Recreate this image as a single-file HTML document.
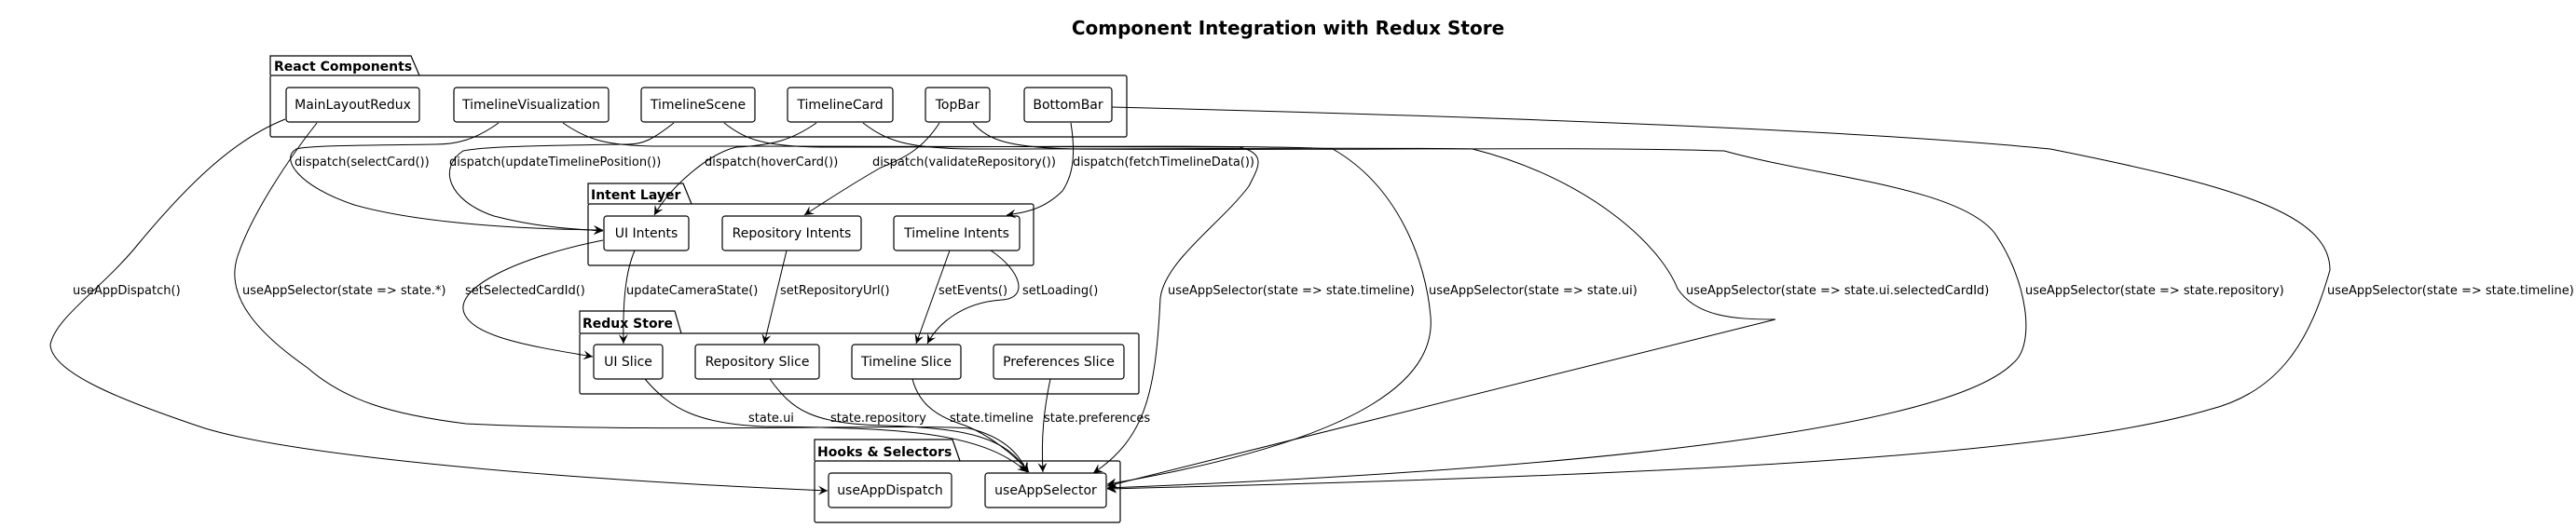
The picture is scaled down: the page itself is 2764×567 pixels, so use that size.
<!DOCTYPE html>
<html><head><meta charset="utf-8"><style>
html,body{margin:0;padding:0;background:#fff;}
svg{display:block;}
text{font-family:"DejaVu Sans","Liberation Sans",sans-serif;fill:#000;}
.n{font-size:14px;}
.l{font-size:13px;}
.p{font-size:14px;font-weight:bold;}
</style></head><body>
<svg width="2764" height="567" viewBox="0 0 2764 567" xmlns="http://www.w3.org/2000/svg">
<defs>
<marker id="a" markerWidth="12" markerHeight="10" refX="10" refY="5" orient="auto" markerUnits="userSpaceOnUse">
<path d="M0,0 L10,5 L0,10 L4,5 Z" fill="#000"/>
</marker>
</defs>
<text x="1382" y="37" text-anchor="middle" style="font-size:20px;font-weight:bold">Component Integration with Redux Store</text>

<g fill="none" stroke="#000" stroke-width="1.2">
<!-- packages -->
<path d="M290,81 V60 H441 L450,81"/><rect x="290" y="81" width="919" height="66" rx="2"/>
<path d="M631,219 V197 H733 L742,219"/><rect x="631" y="219" width="478" height="66" rx="2"/>
<path d="M622,358 V334 H724 L731,358"/><rect x="622" y="358" width="600" height="65" rx="2"/>
<path d="M874,495 V472 H1022 L1030,495"/><rect x="874" y="495" width="328" height="66" rx="2"/>
<!-- nodes -->
<rect x="307" y="94" width="143" height="37" rx="3"/>
<rect x="487" y="94" width="166" height="37" rx="3"/>
<rect x="688" y="94" width="122" height="37" rx="3"/>
<rect x="845" y="94" width="113" height="37" rx="3"/>
<rect x="993" y="94" width="69" height="37" rx="3"/>
<rect x="1099" y="94" width="94" height="37" rx="3"/>
<rect x="648" y="232" width="91" height="37" rx="3"/>
<rect x="775" y="232" width="149" height="37" rx="3"/>
<rect x="959" y="232" width="135" height="37" rx="3"/>
<rect x="637" y="370" width="74" height="37" rx="3"/>
<rect x="746" y="370" width="133" height="37" rx="3"/>
<rect x="914" y="370" width="117" height="37" rx="3"/>
<rect x="1066" y="370" width="140" height="37" rx="3"/>
<rect x="889" y="508" width="132" height="37" rx="3"/>
<rect x="1057" y="508" width="130" height="37" rx="3"/>
</g>

<g fill="none" stroke="#000" stroke-width="1" marker-end="url(#a)">
<!-- dispatch edges -->
<path d="M535,132 C510,150 490,155 467,155 C400,156 330,156 318,160 C300,170 320,200 380,220 C450,240 560,246 647,247"/>
<path d="M723,132 C700,150 690,155 673,155 C600,156 520,157 497,162 C470,180 480,215 530,232 C580,245 620,246 647,248"/>
<path d="M876,132 C850,150 830,156 790,158 C760,165 720,200 702,231"/>
<path d="M1008,132 C990,160 970,170 945,180 C910,200 880,220 863,231"/>
<path d="M1149,132 C1155,170 1150,190 1140,205 C1120,225 1100,228 1080,231"/>
<!-- intents to slices -->
<path d="M681,269 C672,290 668,320 669,369"/>
<path d="M647,258 C560,275 480,310 500,340 C515,365 590,375 636,383"/>
<path d="M844,269 L820,369"/>
<path d="M1019,269 L983,369"/>
<path d="M1063,269 C1095,290 1105,320 1075,322 C1030,325 1005,350 995,369"/>
<!-- slices to selector -->
<path d="M692,407 C720,440 750,455 820,458 C950,460 1050,460 1102,507"/>
<path d="M826,407 C850,440 870,455 950,457 C1040,460 1080,470 1103,507"/>
<path d="M979,407 C985,430 1000,445 1030,455 C1060,465 1090,490 1104,507"/>
<path d="M1127,407 C1120,440 1117,470 1119,507"/>
<!-- hooks -->
<path d="M306,128 C250,150 200,200 150,260 C110,310 60,340 54,370 C55,400 130,430 220,460 C320,490 600,515 888,527"/>
<path d="M340,132 C310,170 270,230 255,275 C240,320 280,360 330,395 C370,430 420,445 500,455 C700,465 980,455 1040,460 C1080,470 1095,490 1102,507"/>
<!-- right side selectors -->
<path d="M604,132 C630,150 650,156 700,157 C900,158 1200,156 1330,158 C1360,165 1350,180 1340,200 C1310,240 1250,280 1245,320 C1240,420 1230,470 1173,508"/>
<path d="M777,132 C800,150 820,157 880,158 C1100,158 1350,155 1430,160 C1500,200 1530,280 1535,340 C1540,400 1480,470 1188,520"/>
<path d="M926,132 C950,150 970,160 1050,160 C1300,160 1500,158 1580,160 C1700,190 1780,260 1800,310 C1820,340 1860,343 1905,343 L1188,522"/>
<path d="M1044,132 C1060,150 1080,158 1150,160 C1400,162 1700,157 1850,162 C1950,190 2100,200 2140,250 C2175,300 2185,370 2160,390 C2100,450 1800,500 1188,524"/>
<path d="M1193,115 C1600,125 2000,140 2200,160 C2400,200 2500,230 2500,290 C2480,360 2450,420 2370,440 C2200,490 1800,510 1188,525"/>
</g>

<g class="n" text-anchor="middle">
<text x="378.5" y="117">MainLayoutRedux</text>
<text x="570" y="117">TimelineVisualization</text>
<text x="749" y="117">TimelineScene</text>
<text x="901.5" y="117">TimelineCard</text>
<text x="1027.5" y="117">TopBar</text>
<text x="1146" y="117">BottomBar</text>
<text x="693.5" y="255">UI Intents</text>
<text x="849.5" y="255">Repository Intents</text>
<text x="1026.5" y="255">Timeline Intents</text>
<text x="674" y="393">UI Slice</text>
<text x="812.5" y="393">Repository Slice</text>
<text x="972.5" y="393">Timeline Slice</text>
<text x="1136" y="393">Preferences Slice</text>
<text x="955" y="531">useAppDispatch</text>
<text x="1122" y="531">useAppSelector</text>
</g>
<g class="p">
<text x="294" y="76">React Components</text>
<text x="634" y="214">Intent Layer</text>
<text x="625" y="352">Redux Store</text>
<text x="877" y="490">Hooks &amp; Selectors</text>
</g>
<g class="l">
<text x="316" y="178">dispatch(selectCard())</text>
<text x="482" y="178">dispatch(updateTimelinePosition())</text>
<text x="756" y="178">dispatch(hoverCard())</text>
<text x="936" y="178">dispatch(validateRepository())</text>
<text x="1151" y="178">dispatch(fetchTimelineData())</text>
<text x="78" y="316">useAppDispatch()</text>
<text x="260" y="316">useAppSelector(state =&gt; state.*)</text>
<text x="499" y="316">setSelectedCardId()</text>
<text x="672" y="316">updateCameraState()</text>
<text x="837" y="316">setRepositoryUrl()</text>
<text x="1007" y="316">setEvents()</text>
<text x="1097" y="316">setLoading()</text>
<text x="1253" y="316">useAppSelector(state =&gt; state.timeline)</text>
<text x="1533" y="316">useAppSelector(state =&gt; state.ui)</text>
<text x="1809" y="316">useAppSelector(state =&gt; state.ui.selectedCardId)</text>
<text x="2173" y="316">useAppSelector(state =&gt; state.repository)</text>
<text x="2497" y="316">useAppSelector(state =&gt; state.timeline)</text>
<text x="803" y="453">state.ui</text>
<text x="891" y="453">state.repository</text>
<text x="1019" y="453">state.timeline</text>
<text x="1120" y="453">state.preferences</text>
</g>
</svg>
</body></html>
